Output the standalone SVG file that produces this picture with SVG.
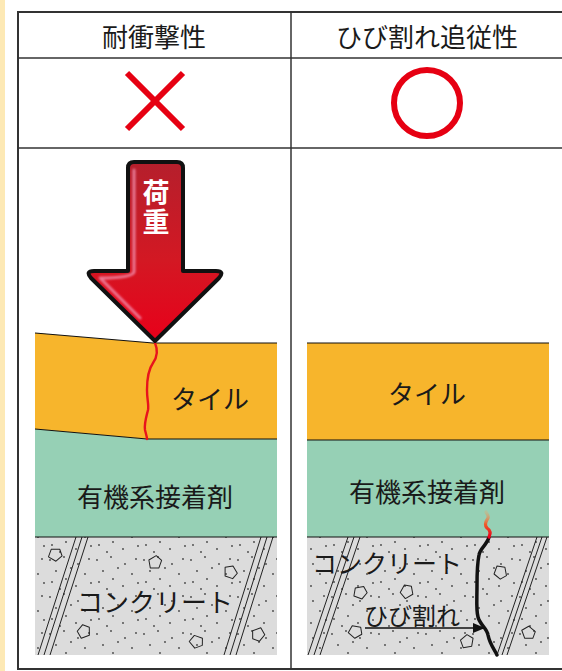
<svg xmlns="http://www.w3.org/2000/svg" width="562" height="671" viewBox="0 0 562 671">
  <style>
    .grid { stroke: #333; fill: none; }
    .txt { font-family: "Noto Sans CJK JP", "Noto Sans", sans-serif; fill: #1a1a1a; text-anchor: middle; dominant-baseline: central; }
    .edge { stroke: #111; stroke-width: 1.2; fill: none; }
    .tile { fill: #f7b52c; }
    .glue { fill: #96d0b5; }
    .conc { fill: #dcdcdc; }
    .hatch { stroke: #222; stroke-width: 1; }
    .pb { fill: none; stroke: #222; stroke-width: 1; stroke-linejoin: round; }
    .mark { stroke: #e60012; stroke-width: 6; fill: none; }
  </style>
  <defs>
    <pattern id="dots" width="47" height="37" patternUnits="userSpaceOnUse">
      <g fill="#444">
        <circle cx="3" cy="5" r="0.9"/>
        <circle cx="17" cy="2" r="0.9"/>
        <circle cx="31" cy="9" r="0.9"/>
        <circle cx="42" cy="4" r="0.9"/>
        <circle cx="9" cy="16" r="0.9"/>
        <circle cx="24" cy="13" r="0.9"/>
        <circle cx="38" cy="19" r="0.9"/>
        <circle cx="5" cy="27" r="0.9"/>
        <circle cx="19" cy="24" r="0.9"/>
        <circle cx="29" cy="31" r="0.9"/>
        <circle cx="44" cy="28" r="0.9"/>
        <circle cx="13" cy="34" r="0.9"/>
      </g>
    </pattern>
    <path id="pebble" d="M-5.5,-4 L2.5,-7 L7,-1.5 L3,5.5 L-5.5,4 Z"/>
    <linearGradient id="arrowFill" x1="0" y1="0" x2="0" y2="1">
      <stop offset="0" stop-color="#b51f2c"/>
      <stop offset="0.55" stop-color="#d31823"/>
      <stop offset="1" stop-color="#e8001a"/>
    </linearGradient>
    <linearGradient id="crackTip" gradientUnits="userSpaceOnUse" x1="0" y1="537" x2="0" y2="512">
      <stop offset="0" stop-color="#e8001a"/>
      <stop offset="0.5" stop-color="#f05a28"/>
      <stop offset="1" stop-color="#f0a060" stop-opacity="0.3"/>
    </linearGradient>
    <filter id="soft" x="-50%" y="-50%" width="200%" height="200%">
      <feGaussianBlur stdDeviation="1.2"/>
    </filter>
    <marker id="arrowHead" markerWidth="12" markerHeight="10" refX="11" refY="5" orient="auto" markerUnits="userSpaceOnUse">
      <path d="M0,0 L12,5 L0,10 Z" fill="#111"/>
    </marker>
  </defs>

  <!-- page background -->
  <rect x="0" y="0" width="562" height="671" fill="#ffffff"/>
  <rect x="0" y="0" width="5" height="671" fill="#fde9b5"/>

  <!-- table grid -->
  <g id="table">
    <path class="grid" stroke-width="2" d="M562,12 L18,12 L18,669 L562,669"/>
    <line class="grid" stroke-width="1.5" x1="18" y1="58" x2="562" y2="58"/>
    <line class="grid" stroke-width="1.5" x1="18" y1="148" x2="562" y2="148"/>
    <line class="grid" stroke-width="1.5" x1="291" y1="12" x2="291" y2="669"/>
  </g>

  <!-- column headers -->
  <g id="header-impact">
    <text class="txt" x="154" y="35" font-size="26">耐衝撃性</text>
  </g>
  <g id="header-crack">
    <text class="txt" x="427" y="35" font-size="26">ひび割れ追従性</text>
  </g>

  <!-- ratings -->
  <g id="rating-cross">
    <line class="mark" x1="127" y1="73" x2="183" y2="129"/>
    <line class="mark" x1="183" y1="73" x2="127" y2="129"/>
  </g>
  <g id="rating-circle">
    <circle class="mark" cx="427" cy="103" r="33"/>
  </g>

  <!-- left panel: rigid layers under load -->
  <g id="left-concrete">
    <rect class="conc" x="35" y="537" width="242" height="118"/>
    <rect x="35" y="537" width="242" height="118" fill="url(#dots)"/>
    <line class="hatch" x1="76" y1="537" x2="38" y2="655"/>
    <line class="hatch" x1="82" y1="537" x2="44" y2="655"/>
    <line class="hatch" x1="88" y1="537" x2="50" y2="655"/>
    <line class="hatch" x1="261" y1="537" x2="224" y2="655"/>
    <line class="hatch" x1="267" y1="537" x2="230" y2="655"/>
    <line class="hatch" x1="273" y1="537" x2="236" y2="655"/>
    <use href="#pebble" class="pb" transform="translate(55,555) rotate(20)"/>
    <use href="#pebble" class="pb" transform="translate(155,563) rotate(-10)"/>
    <use href="#pebble" class="pb" transform="translate(230,572) rotate(80)"/>
    <use href="#pebble" class="pb" transform="translate(84,632) rotate(-30)"/>
    <use href="#pebble" class="pb" transform="translate(196,642) rotate(40)"/>
    <use href="#pebble" class="pb" transform="translate(258,634) rotate(150)"/>
    <text class="txt" x="155" y="600" font-size="26">コンクリート</text>
  </g>
  <g id="left-adhesive">
    <path class="glue" d="M35,429 L147,439 L277,439 L277,537 L35,537 Z"/>
    <line class="edge" x1="35" y1="537" x2="277" y2="537"/>
    <text class="txt" x="155" y="495" font-size="26">有機系接着剤</text>
  </g>
  <g id="left-tile">
    <path class="tile" d="M35,333 L153,343 L277,343 L277,439 L147,439 L35,429 Z"/>
    <path class="edge" d="M35,333 L153,343 L277,343"/>
    <path class="edge" d="M35,429 L147,439 L277,439"/>
    <path d="M155,343 C158,350 158,356 153,363 C148,370 147,380 147,390 C147,400 149,405 148,410 C146,418 144,424 145,430 C146,434 147,437 147,439" fill="none" stroke="#e8141c" stroke-width="2.4" stroke-linecap="round"/>
    <text class="txt" x="210" y="397" font-size="26">タイル</text>
  </g>
  <g id="load-arrow">
    <path d="M128,168 Q128,162 134,162 L177,162 Q183,162 183,168 L183,271 L216,271 Q225,271 219,278 L155,341 L91,278 Q85,271 94,271 L128,271 Z" fill="url(#arrowFill)" stroke="#111" stroke-width="4" stroke-linejoin="round"/>
    <path d="M134,170 L134,272 Q132,278 100,278 L140,318" fill="none" stroke="#f08aa8" stroke-width="3" stroke-linecap="round" stroke-linejoin="round" opacity="0.85" filter="url(#soft)"/>
    <text x="156" y="179" font-size="27" font-weight="bold" letter-spacing="2" writing-mode="vertical-rl" font-family="'Noto Sans CJK JP', 'Noto Sans', sans-serif" fill="#ffffff">荷重</text>
  </g>

  <!-- right panel: flexible adhesive bridging a crack -->
  <g id="right-concrete">
    <rect class="conc" x="307" y="537" width="242" height="118"/>
    <rect x="307" y="537" width="242" height="118" fill="url(#dots)"/>
    <line class="hatch" x1="348" y1="537" x2="308" y2="655"/>
    <line class="hatch" x1="354" y1="537" x2="314" y2="655"/>
    <line class="hatch" x1="360" y1="537" x2="320" y2="655"/>
    <line class="hatch" x1="537" y1="537" x2="497" y2="655"/>
    <line class="hatch" x1="542" y1="537" x2="502" y2="655"/>
    <line class="hatch" x1="547" y1="537" x2="507" y2="655"/>
    <use href="#pebble" class="pb" transform="translate(360,593) rotate(10)"/>
    <use href="#pebble" class="pb" transform="translate(407,592) rotate(-40)"/>
    <use href="#pebble" class="pb" transform="translate(355,632) rotate(30)"/>
    <use href="#pebble" class="pb" transform="translate(500,572) rotate(100)"/>
    <use href="#pebble" class="pb" transform="translate(467,642) rotate(-20)"/>
    <use href="#pebble" class="pb" transform="translate(528,633) rotate(60)"/>
    <text class="txt" x="387" y="562" font-size="25">コンクリート</text>
    <path d="M489,537 C487,545 480,548 479,555 C477,565 477,575 477,585 C477,600 476,610 478,617 C480,625 487,628 488,635 C490,645 495,650 497,655" fill="none" stroke="#111" stroke-width="3.5" stroke-linecap="round"/>
  </g>
  <g id="right-adhesive">
    <rect class="glue" x="307" y="440" width="242" height="97"/>
    <line class="edge" x1="307" y1="537" x2="549" y2="537"/>
    <text class="txt" x="427" y="490" font-size="26">有機系接着剤</text>
    <path d="M489,537 C491,533 490,530 487,528 C484,525 486,521 488,518 C489,516 487,514 486,512" fill="none" stroke="url(#crackTip)" stroke-width="3.2" stroke-linecap="round"/>
  </g>
  <g id="right-tile">
    <rect class="tile" x="307" y="343" width="242" height="97"/>
    <line class="edge" x1="307" y1="343" x2="549" y2="343"/>
    <line class="edge" x1="307" y1="440" x2="549" y2="440"/>
    <text class="txt" x="427" y="392" font-size="26">タイル</text>
  </g>

  <!-- crack callout -->
  <g id="crack-label">
    <text class="txt" x="412" y="614" font-size="24">ひび割れ</text>
  </g>
  <g id="connectors">
    <line x1="365" y1="628" x2="484" y2="628" stroke="#111" stroke-width="1.5" marker-end="url(#arrowHead)"/>
  </g>
</svg>
